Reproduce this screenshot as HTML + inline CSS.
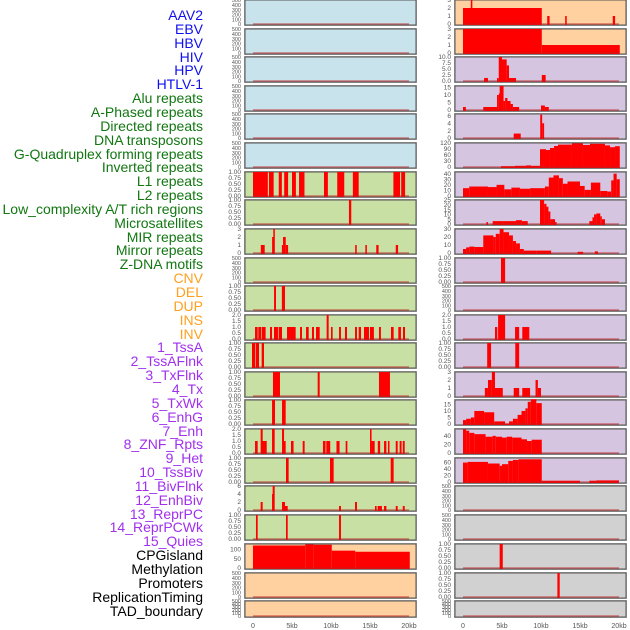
<!DOCTYPE html>
<html><head><meta charset="utf-8">
<style>
body{margin:0;background:#fff;}
#wrap{position:relative;width:630px;height:630px;overflow:hidden;font-family:"Liberation Sans",sans-serif;}
.lab{position:absolute;right:427px;font-size:14px;line-height:14px;white-space:nowrap;}
svg{position:absolute;left:0;top:0;}
</style></head><body>
<div id="wrap">
<svg id="s" width="630" height="630"></svg>
</div>
<script>
// ---- labels ----
const labelNames = ["AAV2","EBV","HBV","HIV","HPV","HTLV-1","Alu repeats","A-Phased repeats","Directed repeats","DNA transposons","G-Quadruplex forming repeats","Inverted repeats","L1 repeats","L2 repeats","Low_complexity A/T rich regions","Microsatellites","MIR repeats","Mirror repeats","Z-DNA motifs","CNV","DEL","DUP","INS","INV","1_TssA","2_TssAFlnk","3_TxFlnk","4_Tx","5_TxWk","6_EnhG","7_Enh","8_ZNF_Rpts","9_Het","10_TssBiv","11_BivFlnk","12_EnhBiv","13_ReprPC","14_ReprPCWk","15_Quies","CPGisland","Methylation","Promoters","ReplicationTiming","TAD_boundary"];
const labelGroups = [0,0,0,0,0,0,1,1,1,1,1,1,1,1,1,1,1,1,1,2,2,2,2,2,3,3,3,3,3,3,3,3,3,3,3,3,3,3,3,4,4,4,4,4];
const groupColors = ["#1010ee","#117711","#ffa020","#a030ee","#000000"];
const xTicks = [0,5,10,15,20];
const xTickLabels = ["0","5kb","10kb","15kb","20kb"];

// ---- tick label sets ----
const T500 = ["0","100","200","300","400","500"];
const T1 = ["0.00","0.25","0.50","0.75","1.00"];
const T3 = ["0","1","2","3"];
const T2 = ["0.0","0.5","1.0","1.5","2.0"];
const T6 = ["0","2","4","6"];

// ---- left column data: [startKb, endKb, value] ----
const L6 = [[0,1.9,1],[2.05,2.65,1],[3.3,3.7,1],[4.0,4.5,1],[5.0,5.5,1],[5.9,6.6,1],[9.1,9.6,1],[10.8,11.7,1],[12.8,13.55,1],[18.0,18.85,1],[19.0,19.5,1]];
const L7 = [[12.3,12.6,1]];
const L8 = [[1.0,1.5,1],[2.45,2.6,2],[2.6,2.8,3],[3.7,3.85,1],[3.85,4.2,2],[4.2,4.5,1],[13.1,13.3,1],[14.4,14.6,1],[15.8,16.1,1],[18.3,18.6,1]];
const L10 = [[2.7,2.95,1],[3.7,4.1,1]];
const L11 = [[0.26,0.6,1],[0.68,1.03,1],[1.11,1.62,1],[2.18,2.44,1],[2.69,3.2,1],[3.29,3.72,1],[4.36,5.47,1],[6.03,6.28,1],[6.8,7.14,1],[7.56,7.82,1],[8.08,8.55,1],[9.44,9.7,2],[10.0,10.21,1],[11.03,11.28,1],[11.79,12.05,1],[13.08,13.33,1],[13.55,13.85,1],[14.23,14.87,1],[15.0,15.5,1],[16.15,16.4,1],[17.69,18.03,1],[18.63,18.97,1],[19.23,19.49,1]];
const L12 = [[-0.13,0.26,1],[0.34,0.77,1],[1.11,1.41,1]];
const L13 = [[2.56,3.46,1],[8.29,8.55,1],[16.15,17.56,1]];
const L14 = [[2.44,2.82,1],[3.72,4.19,1]];
const L15 = [[0.26,0.6,1],[0.98,1.24,2],[1.2,1.76,1],[2.44,2.78,2],[3.72,3.98,2],[3.9,4.19,1],[4.87,5.2,1],[6.37,6.62,1],[8.97,9.3,1],[9.4,9.9,1],[10.7,11.1,1],[11.88,12.1,1],[15.0,15.2,2],[15.2,15.6,1],[16.0,16.3,1],[16.8,17.1,1],[17.3,17.5,1],[18.3,18.55,1],[18.8,19.05,1],[19.2,19.45,1]];
const L16 = [[4.23,4.57,1],[9.87,10.34,1],[17.65,18.03,1]];
const L17 = [[0.98,1.24,2],[2.44,2.52,4],[2.52,2.78,6],[3.72,4.1,2],[4.1,4.45,1],[11.03,11.28,1],[13.08,13.33,2],[15.64,15.85,1],[15.98,16.53,1],[16.8,17.1,1],[18.3,18.55,1],[19.2,19.45,1]];
const L18 = [[0.38,0.6,1],[4.23,4.45,1],[11.03,11.28,1]];
const L19 = [[0,6.7,122],[6.7,7.8,128],[7.8,10.1,126],[10.1,13.1,94],[13.1,20.1,88]];

// ---- right column data ----
const R0 = [[0,10.1,2],[1.0,1.2,3],[10.8,11.1,1],[13.1,13.3,1],[19.2,19.5,1]];
const R1 = [[0,10.1,3],[10.1,20.1,1]];
const R2 = [[2.7,3.2,1.25],[4.36,4.58,1.2],[4.58,5.0,10],[5.0,5.6,9],[5.6,5.9,6.5],[5.9,6.8,1.25],[10.1,10.6,2.5]];
const R3 = [[0,0.37,2],[2.6,4.36,2],[4.36,4.6,10],[4.6,4.7,11],[4.7,5.2,16],[5.2,5.4,6],[5.4,5.7,8],[5.7,6.1,6],[6.1,6.4,4],[6.4,7.2,2],[10.0,10.5,3],[10.5,11.0,2]];
const R4 = [[6.5,7.4,1.2],[9.9,10.15,6.3],[10.15,10.4,4]];
const R5 = [[4.87,6.67,4],[6.67,8.08,6],[8.08,8.72,8],[8.72,9.87,6],[9.87,10.64,89],[10.64,11.15,85],[11.15,11.67,95],[11.67,12.18,105],[12.18,13.97,112],[13.97,15.38,118],[15.38,16.28,110],[16.28,18.2,116],[18.2,18.85,108],[18.85,19.49,99],[19.49,20.1,104]];
const R6 = [[0,0.8,14],[0.8,3.2,17],[3.2,4.3,16],[4.3,5.3,20],[5.3,6.2,12],[6.2,7.3,15],[7.3,8.6,13],[8.6,10.5,14],[10.5,11,17],[11,11.6,33],[11.6,12.3,37],[12.3,12.8,32],[12.8,13.4,22],[13.4,15,26],[15,15.6,18],[15.6,16.4,11],[16.4,17.6,24],[17.6,18.5,9],[18.5,19,8],[19,19.3,28],[19.3,19.7,40],[19.7,20.1,30]];
const R7 = [[3.0,3.2,2],[3.8,5.2,3],[5.2,6.8,3],[6.8,7.55,4],[7.55,8.3,3],[9.87,10.4,25],[10.4,10.7,21],[10.7,10.95,18],[10.95,11.2,13],[11.2,11.8,5],[11.8,12.0,2],[16.2,16.6,3],[16.6,16.8,7],[16.8,17.1,10],[17.1,17.6,11],[17.6,17.8,8],[17.8,18.2,5]];
const R8 = [[0,0.4,5],[0.4,0.8,7],[0.8,1.45,8],[1.45,2.6,7.5],[2.6,3.9,22],[3.9,4.2,20],[4.2,4.7,24],[4.7,5.2,30],[5.2,5.9,26],[5.9,6.4,22],[6.4,6.8,15],[6.8,7.3,12],[7.3,7.8,5],[7.8,9.4,3],[9.4,11.3,3],[14.7,15.4,1.5],[16.9,17.3,2]];
const R9 = [[4.87,5.4,1]];
const R11 = [[4.1,4.4,1],[4.5,5.4,2],[6.67,7.2,1],[7.6,8.5,1]];
const R12 = [[3.1,3.6,1],[6.7,7.2,1]];
const R13 = [[2.8,3.2,1],[3.2,3.7,2],[3.7,4.1,3],[4.1,5.1,1],[6.5,7.2,1],[7.6,8.6,1],[9.3,9.6,2],[9.6,10.0,1]];
const R14 = [[0,0.4,3],[0.4,1.0,4],[1.0,1.45,5],[1.45,2.7,10],[2.7,4.0,9],[4.0,5.4,2],[5.4,5.9,0.3],[5.9,6.4,2],[6.4,7.0,4],[7.0,7.5,7],[7.5,8.0,10],[8.0,8.3,12],[8.3,8.7,17],[8.7,9.4,19],[9.4,10.1,16]];
const R15 = [[0,0.4,55],[0.4,0.8,52],[0.8,1.45,47],[1.45,2.9,44],[2.9,3.8,38],[3.8,4.2,40],[4.2,5.0,38],[5.0,5.6,36],[5.6,6.3,38],[6.3,7.5,36],[7.5,8.2,32],[8.2,8.8,28],[8.8,10.1,31]];
const R16 = [[0,0.6,60],[0.6,3.2,62],[3.2,4.7,57],[4.7,5.0,50],[5.0,5.8,55],[5.8,6.4,65],[6.4,7.1,68],[7.1,10.1,70],[10.1,15.0,4],[16.2,17.1,4],[17.1,20.0,5]];
const R19 = [[4.7,5.1,1]];
const R20 = [[12.1,12.4,1]];

const BLUE="#c8e3eb", GREEN="#c9e0a5", ORANGE="#ffd1a1", LAV="#d6c5e1", GRAY="#d1d1d1";
const rowTops=[0,29,57,86,114,143,172,200,229,258,286,315,343,372,400,429,458,486,515,544,573,601];
const leftPanels=[
 [BLUE,500,T500,[],"aav2"],[BLUE,500,T500,[],"ebv"],[BLUE,500,T500,[],"hbv"],[BLUE,500,T500,[],"hiv"],[BLUE,500,T500,[],"hpv"],[BLUE,500,T500,[],"htlv"],
 [GREEN,1,T1,L6,"l1"],[GREEN,1,T1,L7,"low-complexity"],[GREEN,3,T3,L8,"mir"],[GREEN,500,T500,[],"zdna"],[GREEN,1,T1,L10,"del"],[GREEN,2,T2,L11,"ins"],
 [GREEN,1,T1,L12,"tssa"],[GREEN,1,T1,L13,"txflnk"],[GREEN,1,T1,L14,"txwk"],[GREEN,2,T2,L15,"znf"],[GREEN,1,T1,L16,"bivflnk"],[GREEN,6,T6,L17,"enhbiv"],[GREEN,1,T1,L18,"reprpcwk"],
 [ORANGE,130,["0","50","100"],L19,"cpgisland"],[ORANGE,500,T500,[],"methylation"],[ORANGE,500,T500,[],"promoters"]];
const rightPanels=[
 [ORANGE,3,T3,R0,"aav2"],[ORANGE,3,T3,R1,"ebv"],[LAV,10,["0.0","2.5","5.0","7.5","10.0"],R2,"hiv"],[LAV,16,["0","5","10","15"],R3,"hpv"],[LAV,6.5,T6,R4,"htlv"],[LAV,120,["0","30","60","90","120"],R5,"alu"],
 [LAV,43,["0","10","20","30","40"],R6,"l1"],[LAV,25,["0","5","10","15","20","25"],R7,"low-complexity"],[LAV,30,["0","10","20","30"],R8,"mir"],[LAV,1,T1,R9,"zdna"],[LAV,500,T500,[],"del"],[LAV,2,T2,R11,"ins"],
 [LAV,1,T1,R12,"tssa"],[LAV,3,T3,R13,"txflnk"],[LAV,18.4,["0","5","10","15"],R14,"txwk"],[LAV,56,["0","20","40"],R15,"znf"],[LAV,74,["0","20","40","60"],R16,"bivflnk"],
 [GRAY,500,T500,[],"enhbiv"],[GRAY,500,T500,[],"reprpcwk"],[GRAY,1,T1,R19,"cpgisland"],[GRAY,1,T1,R20,"methylation"],[GRAY,500,T500,[],"promoters"]];

const NS="http://www.w3.org/2000/svg";
const svg=document.getElementById('s');
function mk(tag,attrs,parent){const e=document.createElementNS(NS,tag);for(const k in attrs)e.setAttribute(k,attrs[k]);(parent||svg).appendChild(e);return e;}

function drawPanel(cfg,row,col){
  const [bg,ymax,ticks,data,nm]=cfg;
  const px0 = col===0?245:455, pw=171;
  const x0 = col===0?253:463;
  const xs = kb=>x0+kb*7.8;
  const top=rowTops[row], h=(row===21?16:25), bottom=top+h;
  const ys = v=>bottom-1-(v/ymax)*(h-1);
  const g=mk('g',{});
  
  
  mk('rect',{x:px0-0.5,y:top-0.5,width:pw+1,height:h+1,fill:'none',stroke:'#aaa','stroke-width':1},g);
  mk('rect',{x:px0,y:top,width:pw,height:h,fill:bg,stroke:'#555','stroke-width':1},g);
  for(const d of data){
    const r=mk('rect',{x:xs(d[0]),y:ys(d[2]),width:Math.max(1.5,xs(d[1])-xs(d[0])),height:bottom-ys(d[2]),fill:'#ff0000'},g);
    
    
  }
  mk('line',{x1:xs(0),x2:xs(20),y1:bottom-1,y2:bottom-1,stroke:'rgba(190,30,30,0.55)','stroke-width':1.5},g);
  const n=ticks.length;
  const fs = n>=6 && ymax===500 ? 5.5 : 6.5;
  ticks.forEach(t=>{
    const v=parseFloat(t);
    const tx=mk('text',{x:px0-4,y:ys(v)+2.2,'text-anchor':'end','font-size':fs,fill:'#555','font-family':'Liberation Sans, sans-serif'},g);
    tx.textContent=t;
    
    
  });
}
leftPanels.forEach((c,i)=>drawPanel(c,i,0));
rightPanels.forEach((c,i)=>drawPanel(c,i,1));

// x axes
[253,463].forEach((x0,ci)=>{
  xTicks.forEach((k,i)=>{
    const t=mk('text',{x:x0+k*7.8,y:628,'text-anchor':'middle','font-size':7,fill:'#555','font-family':'Liberation Sans, sans-serif'});
    t.textContent=xTickLabels[i];
    
    
  });
});

// row labels
const wrap=document.getElementById('wrap');
labelNames.forEach((n,i)=>{
  const d=document.createElement('div');
  d.className='lab';
  d.style.top=(8+i*13.85)+'px';
  d.style.color=groupColors[labelGroups[i]];
  d.textContent=n;
  
  
  wrap.appendChild(d);
});
</script>
</body></html>
